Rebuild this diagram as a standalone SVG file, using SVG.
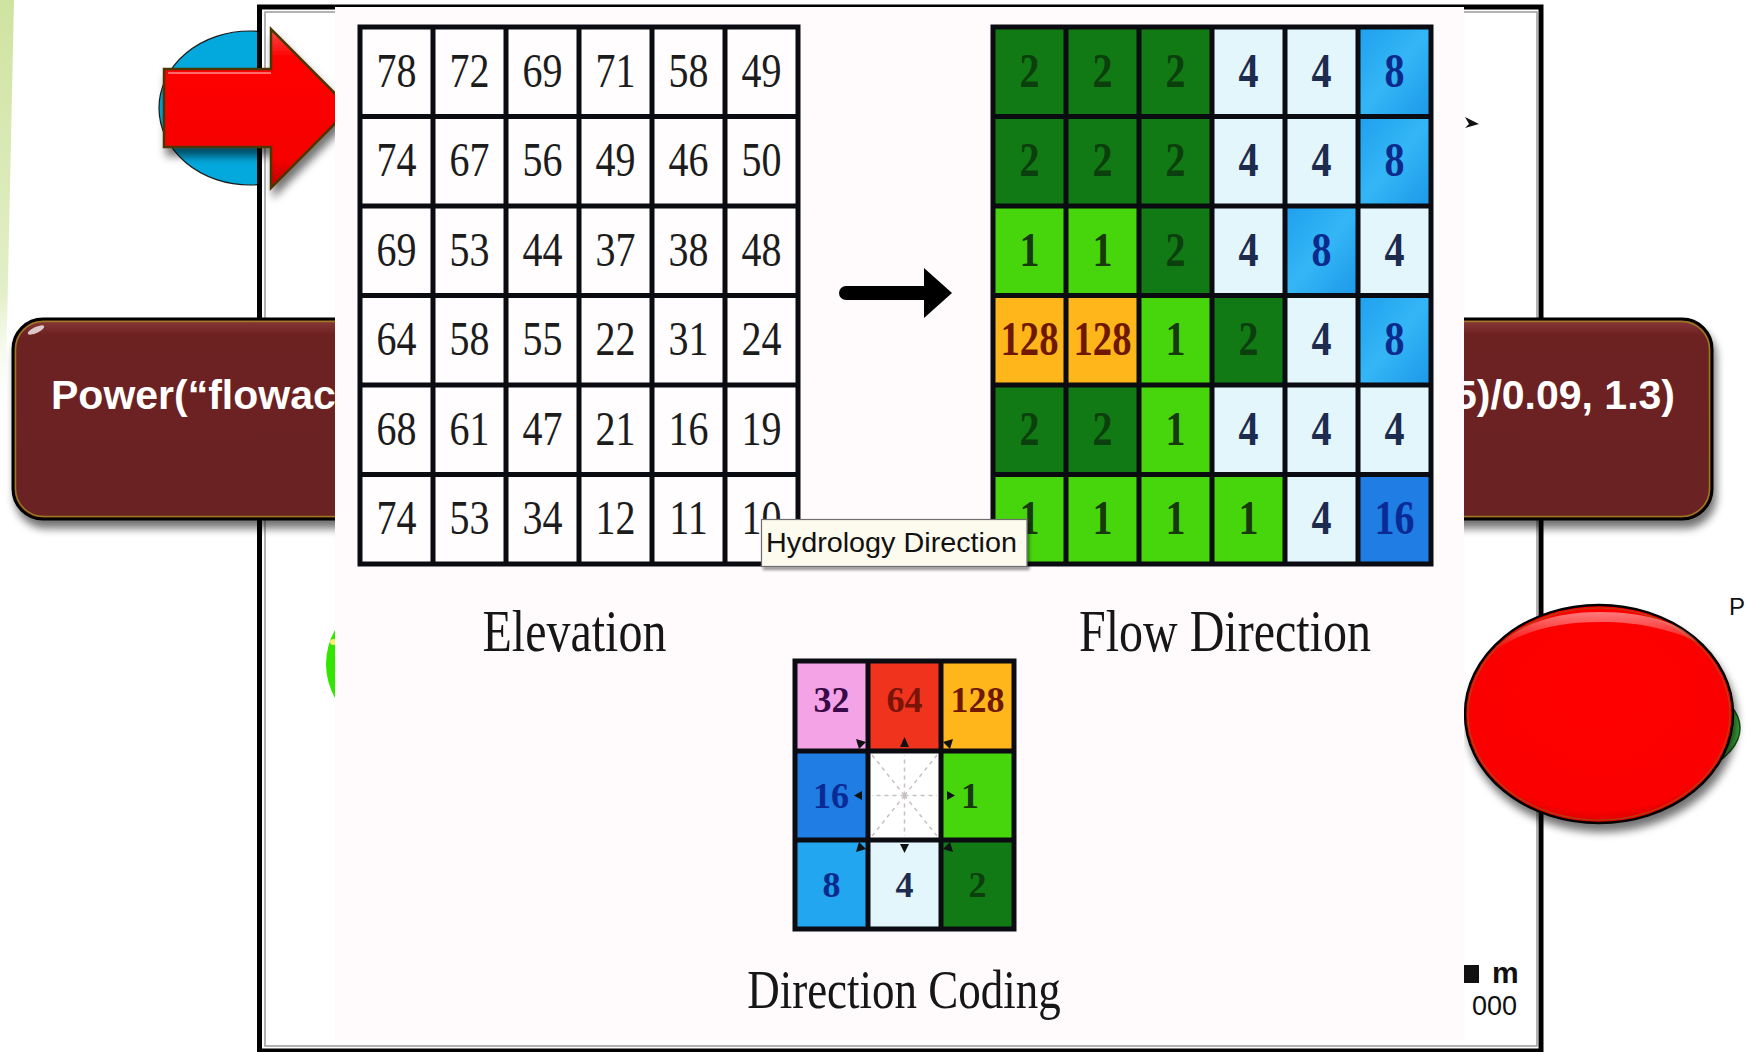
<svg xmlns="http://www.w3.org/2000/svg" width="1749" height="1052" viewBox="0 0 1749 1052">
  <defs>
    <style>
      .bar-text{font-family:"Liberation Sans",Arial,sans-serif;font-weight:bold;font-size:41px;fill:#ffffff}
      .small-sans{font-family:"Liberation Sans",Arial,sans-serif;fill:#111}
      .elev text{font-family:"Liberation Serif","Times New Roman",serif;font-size:40px;fill:#1c1c1c;text-anchor:middle}
      .flow text{font-family:"Liberation Serif","Times New Roman",serif;font-size:40px;font-weight:bold;text-anchor:middle}
      .code text{font-family:"Liberation Serif","Times New Roman",serif;font-size:36px;font-weight:bold;text-anchor:middle}
      .labels text{font-family:"Liberation Serif","Times New Roman",serif;font-weight:normal;fill:#161616;text-anchor:middle}
      .grid-line{fill:none;stroke:#0b0b12;stroke-width:5}
      .dg{fill:#127a14}.lg{fill:#46d60b}.lb{fill:#e2f6fc}.b8{fill:#21a6ef}.or{fill:#ffb61a}.b16{fill:#1f7de3}
      .pk{fill:#f4a3e6}.rd{fill:#f0331c}.wh{fill:#ffffff}
      .t-dg{fill:#0b3f0d}.t-lg{fill:#17390b}.t-lb{fill:#1d2b4e}.t-b8{fill:#0b2a8c}.t-or{fill:#6e1800}.t-b16{fill:#0a2a95}
      .t-pk{fill:#3a0a48}.t-rd{fill:#7a1408}
      .ray{stroke:#c8c0c0;stroke-width:1.5;stroke-dasharray:4 4;fill:none}
      .tip{fill:#111}
    </style>
    <filter id="drop" x="-10%" y="-15%" width="125%" height="145%">
      <feGaussianBlur in="SourceAlpha" stdDeviation="4"/>
      <feOffset dx="3" dy="8"/>
      <feComponentTransfer><feFuncA type="linear" slope="0.55"/></feComponentTransfer>
      <feMerge><feMergeNode/><feMergeNode in="SourceGraphic"/></feMerge>
    </filter>
    <filter id="soft" x="-5%" y="-5%" width="115%" height="130%">
      <feGaussianBlur in="SourceAlpha" stdDeviation="1.5"/>
      <feOffset dx="2" dy="3"/>
      <feComponentTransfer><feFuncA type="linear" slope="0.4"/></feComponentTransfer>
      <feMerge><feMergeNode/><feMergeNode in="SourceGraphic"/></feMerge>
    </filter>
    <linearGradient id="leafGrad" x1="0" y1="0" x2="0" y2="1">
      <stop offset="0" stop-color="#cfe3a0"/>
      <stop offset="0.7" stop-color="#e3efc8"/>
      <stop offset="1" stop-color="#ffffff" stop-opacity="0"/>
    </linearGradient>
    <linearGradient id="barGrad" x1="0" y1="0" x2="0" y2="1">
      <stop offset="0" stop-color="#8a3a3a"/>
      <stop offset="0.08" stop-color="#6d2222"/>
      <stop offset="1" stop-color="#6a2020"/>
    </linearGradient>
    <linearGradient id="redGrad" x1="0" y1="0" x2="0" y2="1">
      <stop offset="0" stop-color="#ff4a4a"/>
      <stop offset="0.18" stop-color="#ff0000"/>
      <stop offset="0.82" stop-color="#f60000"/>
      <stop offset="1" stop-color="#b80000"/>
    </linearGradient>
    <radialGradient id="redBall" cx="0.5" cy="0.4" r="0.62">
      <stop offset="0" stop-color="#ff0000"/>
      <stop offset="0.88" stop-color="#fa0000"/>
      <stop offset="1" stop-color="#cc0000"/>
    </radialGradient>
    <linearGradient id="gloss" x1="0" y1="0" x2="0" y2="1">
      <stop offset="0" stop-color="#ffffff" stop-opacity="0.8"/>
      <stop offset="1" stop-color="#ffffff" stop-opacity="0"/>
    </linearGradient>
    <linearGradient id="blue8" x1="0" y1="0" x2="1" y2="1">
      <stop offset="0" stop-color="#1ea0ee"/>
      <stop offset="0.5" stop-color="#34b6f6"/>
      <stop offset="1" stop-color="#1b98e8"/>
    </linearGradient>
  </defs>

  <rect width="1749" height="1052" fill="#ffffff"/>

  <!-- pale green leaf edge on the far left -->
  <polygon points="0,0 14,0 5,420 0,420" fill="url(#leafGrad)"/>

  <!-- blue disc behind the frame -->
  <g id="blue-disc">
    <ellipse cx="250" cy="108" rx="91" ry="77" fill="#03a8dc" stroke="#1a1a1a" stroke-width="1.2"/>
  </g>

  <!-- slide frame -->
  <g id="frame">
    <rect x="259.5" y="7" width="1281.5" height="1044" fill="#ffffff" stroke="#000000" stroke-width="5"/>
    <rect x="265" y="12" width="1272" height="1034" fill="none" stroke="#9a9a9a" stroke-width="1.5"/>
  </g>

  <!-- green disc, mostly hidden -->
  <g id="green-disc">
    <ellipse cx="446" cy="664" rx="120" ry="90" fill="#33e600"/>
    <ellipse cx="334" cy="642" rx="4" ry="3" fill="#f5f06a"/>
  </g>

  <!-- formula bar -->
  <g id="formula-bar">
    <rect x="13" y="319" width="1699" height="200" rx="30" fill="url(#barGrad)" stroke="#000000" stroke-width="3" filter="url(#drop)"/>
    <rect x="15.5" y="321.5" width="1694" height="195" rx="28" fill="none" stroke="#9a7a22" stroke-width="1.5"/>
    <ellipse cx="36" cy="330" rx="9" ry="3" fill="#ffffff" opacity="0.75" transform="rotate(-25 36 330)"/>
    <text class="bar-text" x="51" y="409">Power(“flowac</text>
    <text class="bar-text" x="1675" y="409" text-anchor="end">5)/0.09, 1.3)</text>
  </g>

  <!-- red block arrow -->
  <g id="red-arrow">
    <polygon points="164,69 271,69 271,29 350,108.5 271,188 271,147 164,147" fill="url(#redGrad)" stroke="#4d3500" stroke-width="2.5" stroke-linejoin="miter" filter="url(#drop)"/>
    <polyline points="168,73 271,73" stroke="#ff6a6a" stroke-width="2" fill="none"/>
  </g>

  <!-- red disc on the right -->
  <g id="red-disc">
    <ellipse cx="1606" cy="728" rx="134" ry="62" fill="#3cae3a" stroke="#1d4d1a" stroke-width="1.5"/>
    <ellipse cx="1599" cy="714" rx="134" ry="109" fill="url(#redBall)" stroke="#000000" stroke-width="2.5" filter="url(#drop)"/>
    <ellipse cx="1599" cy="714" rx="131" ry="106" fill="none" stroke="#9a5a1a" stroke-width="1.2" opacity="0.7"/>
    <path d="M1496,650 C1518,622 1560,612 1600,612 C1648,612 1684,624 1702,645 C1676,630 1640,622 1600,622 C1556,622 1520,632 1496,650 Z" fill="url(#gloss)" opacity="0.6"/>
  </g>

  <!-- side labels outside the picture -->
  <g id="side-labels">
    <polygon points="1465,117 1479,124 1465,128 1469,124" fill="#111"/>
    <text class="small-sans" x="1729" y="615" font-size="24">P</text>
    <rect x="1464" y="965" width="15" height="18" fill="#111"/>
    <text class="small-sans" x="1492" y="983" font-size="30" font-weight="bold">m</text>
    <text class="small-sans" x="1472" y="1015" font-size="27">000</text>
  </g>

  <!-- D8 flow direction figure -->
  <g id="figure">
    <rect x="335" y="7" width="1129" height="1033" fill="#fffafb"/>

    <!-- elevation grid -->
    <g id="elevation-grid" class="elev">
      <rect x="360" y="27" width="438" height="537" fill="#fffdfd"/>
      <path class="grid-line" d="M360,24.5V566.5M433,24.5V566.5M506,24.5V566.5M579,24.5V566.5M652,24.5V566.5M725,24.5V566.5M798,24.5V566.5M357.5,27H800.5M357.5,116.5H800.5M357.5,206H800.5M357.5,295.5H800.5M357.5,385H800.5M357.5,474.5H800.5M357.5,564H800.5"/>
      <g transform="scale(1 1.22)">
        <text x="396.5" y="71.1">78</text><text x="469.5" y="71.1">72</text><text x="542.5" y="71.1">69</text><text x="615.5" y="71.1">71</text><text x="688.5" y="71.1">58</text><text x="761.5" y="71.1">49</text>
        <text x="396.5" y="144.5">74</text><text x="469.5" y="144.5">67</text><text x="542.5" y="144.5">56</text><text x="615.5" y="144.5">49</text><text x="688.5" y="144.5">46</text><text x="761.5" y="144.5">50</text>
        <text x="396.5" y="217.8">69</text><text x="469.5" y="217.8">53</text><text x="542.5" y="217.8">44</text><text x="615.5" y="217.8">37</text><text x="688.5" y="217.8">38</text><text x="761.5" y="217.8">48</text>
        <text x="396.5" y="291.2">64</text><text x="469.5" y="291.2">58</text><text x="542.5" y="291.2">55</text><text x="615.5" y="291.2">22</text><text x="688.5" y="291.2">31</text><text x="761.5" y="291.2">24</text>
        <text x="396.5" y="364.5">68</text><text x="469.5" y="364.5">61</text><text x="542.5" y="364.5">47</text><text x="615.5" y="364.5">21</text><text x="688.5" y="364.5">16</text><text x="761.5" y="364.5">19</text>
        <text x="396.5" y="437.9">74</text><text x="469.5" y="437.9">53</text><text x="542.5" y="437.9">34</text><text x="615.5" y="437.9">12</text><text x="688.5" y="437.9">11</text><text x="761.5" y="437.9">10</text>
      </g>
    </g>

    <!-- flow direction grid -->
    <g id="flow-grid" class="flow">
      <rect class="dg" x="993" y="27" width="73" height="89.5"/><rect class="dg" x="1066" y="27" width="73" height="89.5"/><rect class="dg" x="1139" y="27" width="73" height="89.5"/><rect class="lb" x="1212" y="27" width="73" height="89.5"/><rect class="lb" x="1285" y="27" width="73" height="89.5"/><rect fill="url(#blue8)" x="1358" y="27" width="73" height="89.5"/>
      <rect class="dg" x="993" y="116.5" width="73" height="89.5"/><rect class="dg" x="1066" y="116.5" width="73" height="89.5"/><rect class="dg" x="1139" y="116.5" width="73" height="89.5"/><rect class="lb" x="1212" y="116.5" width="73" height="89.5"/><rect class="lb" x="1285" y="116.5" width="73" height="89.5"/><rect fill="url(#blue8)" x="1358" y="116.5" width="73" height="89.5"/>
      <rect class="lg" x="993" y="206" width="73" height="89.5"/><rect class="lg" x="1066" y="206" width="73" height="89.5"/><rect class="dg" x="1139" y="206" width="73" height="89.5"/><rect class="lb" x="1212" y="206" width="73" height="89.5"/><rect fill="url(#blue8)" x="1285" y="206" width="73" height="89.5"/><rect class="lb" x="1358" y="206" width="73" height="89.5"/>
      <rect class="or" x="993" y="295.5" width="73" height="89.5"/><rect class="or" x="1066" y="295.5" width="73" height="89.5"/><rect class="lg" x="1139" y="295.5" width="73" height="89.5"/><rect class="dg" x="1212" y="295.5" width="73" height="89.5"/><rect class="lb" x="1285" y="295.5" width="73" height="89.5"/><rect fill="url(#blue8)" x="1358" y="295.5" width="73" height="89.5"/>
      <rect class="dg" x="993" y="385" width="73" height="89.5"/><rect class="dg" x="1066" y="385" width="73" height="89.5"/><rect class="lg" x="1139" y="385" width="73" height="89.5"/><rect class="lb" x="1212" y="385" width="73" height="89.5"/><rect class="lb" x="1285" y="385" width="73" height="89.5"/><rect class="lb" x="1358" y="385" width="73" height="89.5"/>
      <rect class="lg" x="993" y="474.5" width="73" height="89.5"/><rect class="lg" x="1066" y="474.5" width="73" height="89.5"/><rect class="lg" x="1139" y="474.5" width="73" height="89.5"/><rect class="lg" x="1212" y="474.5" width="73" height="89.5"/><rect class="lb" x="1285" y="474.5" width="73" height="89.5"/><rect class="b16" x="1358" y="474.5" width="73" height="89.5"/>
      <path class="grid-line" d="M993,24.5V566.5M1066,24.5V566.5M1139,24.5V566.5M1212,24.5V566.5M1285,24.5V566.5M1358,24.5V566.5M1431,24.5V566.5M990.5,27H1433.5M990.5,116.5H1433.5M990.5,206H1433.5M990.5,295.5H1433.5M990.5,385H1433.5M990.5,474.5H1433.5M990.5,564H1433.5"/>
      <g transform="scale(1 1.22)">
        <text class="t-dg" x="1029.5" y="71.1">2</text><text class="t-dg" x="1102.5" y="71.1">2</text><text class="t-dg" x="1175.5" y="71.1">2</text><text class="t-lb" x="1248.5" y="71.1">4</text><text class="t-lb" x="1321.5" y="71.1">4</text><text class="t-b8" x="1394.5" y="71.1">8</text>
        <text class="t-dg" x="1029.5" y="144.5">2</text><text class="t-dg" x="1102.5" y="144.5">2</text><text class="t-dg" x="1175.5" y="144.5">2</text><text class="t-lb" x="1248.5" y="144.5">4</text><text class="t-lb" x="1321.5" y="144.5">4</text><text class="t-b8" x="1394.5" y="144.5">8</text>
        <text class="t-lg" x="1029.5" y="217.8">1</text><text class="t-lg" x="1102.5" y="217.8">1</text><text class="t-dg" x="1175.5" y="217.8">2</text><text class="t-lb" x="1248.5" y="217.8">4</text><text class="t-b8" x="1321.5" y="217.8">8</text><text class="t-lb" x="1394.5" y="217.8">4</text>
        <text class="t-or" x="1029.5" y="291.2" textLength="58" lengthAdjust="spacingAndGlyphs">128</text><text class="t-or" x="1102.5" y="291.2" textLength="58" lengthAdjust="spacingAndGlyphs">128</text><text class="t-lg" x="1175.5" y="291.2">1</text><text class="t-dg" x="1248.5" y="291.2">2</text><text class="t-lb" x="1321.5" y="291.2">4</text><text class="t-b8" x="1394.5" y="291.2">8</text>
        <text class="t-dg" x="1029.5" y="364.5">2</text><text class="t-dg" x="1102.5" y="364.5">2</text><text class="t-lg" x="1175.5" y="364.5">1</text><text class="t-lb" x="1248.5" y="364.5">4</text><text class="t-lb" x="1321.5" y="364.5">4</text><text class="t-lb" x="1394.5" y="364.5">4</text>
        <text class="t-lg" x="1029.5" y="437.9">1</text><text class="t-lg" x="1102.5" y="437.9">1</text><text class="t-lg" x="1175.5" y="437.9">1</text><text class="t-lg" x="1248.5" y="437.9">1</text><text class="t-lb" x="1321.5" y="437.9">4</text><text class="t-b16" x="1394.5" y="437.9">16</text>
      </g>
    </g>

    <!-- direction coding key -->
    <g id="direction-coding" class="code">
      <rect class="pk" x="795" y="661" width="73" height="90"/><rect class="rd" x="868" y="661" width="73" height="90"/><rect class="or" x="941" y="661" width="73" height="90"/>
      <rect class="b16" x="795" y="751" width="73" height="89"/><rect class="wh" x="868" y="751" width="73" height="89"/><rect class="lg" x="941" y="751" width="73" height="89"/>
      <rect class="b8" x="795" y="840" width="73" height="89"/><rect class="lb" x="868" y="840" width="73" height="89"/><rect class="dg" x="941" y="840" width="73" height="89"/>
      <path class="ray" d="M904.5,795.5L872,755M904.5,795.5V755M904.5,795.5L937,755M904.5,795.5H872M904.5,795.5H937M904.5,795.5L872,836M904.5,795.5V836M904.5,795.5L937,836"/>
      <path class="grid-line" d="M795,658.5V931.5M868,658.5V931.5M941,658.5V931.5M1014,658.5V931.5M792.5,661H1016.5M792.5,751H1016.5M792.5,840H1016.5M792.5,929H1016.5"/>
      <polygon class="tip" points="856,739 866,742 859,749"/>
      <polygon class="tip" points="904.5,737 909,747 900,747"/>
      <polygon class="tip" points="953,739 943,742 950,749"/>
      <polygon class="tip" points="854,795.5 862,791 862,800"/>
      <polygon class="tip" points="955,795.5 947,791 947,800"/>
      <polygon class="tip" points="856,852 866,849 859,842"/>
      <polygon class="tip" points="904.5,853 909,844 900,844"/>
      <polygon class="tip" points="953,852 943,849 950,842"/>
      <text class="t-pk" x="831.5" y="712">32</text>
      <text class="t-rd" x="904.5" y="712">64</text>
      <text class="t-or" x="977.5" y="712">128</text>
      <text class="t-b16" x="831" y="808">16</text>
      <text class="t-lg" x="970" y="808">1</text>
      <text class="t-b8" x="831.5" y="897">8</text>
      <text class="t-lb" x="904.5" y="897">4</text>
      <text class="t-dg" x="977.5" y="897">2</text>
    </g>

    <!-- captions under each panel -->
    <g id="captions" class="labels" transform="scale(1 1.22)">
      <text x="574.5" y="533.6" font-size="48">Elevation</text>
      <text x="1225" y="533.6" font-size="48">Flow Direction</text>
      <text x="904" y="826.2" font-size="45">Direction Coding</text>
    </g>

    <!-- hover tooltip -->
    <g id="tooltip">
      <rect x="761.5" y="519.5" width="265.5" height="47" fill="#fdfaee" stroke="#6e6e6e" stroke-width="1.2" filter="url(#soft)"/>
      <text class="small-sans" x="766" y="552" font-size="28" fill="#3b2f2a" textLength="251" lengthAdjust="spacingAndGlyphs">Hydrology Direction</text>
    </g>
  </g>

  <!-- arrow from elevation to flow direction -->
  <g id="connectors">
    <line x1="846" y1="293" x2="930" y2="293" stroke="#000" stroke-width="14" stroke-linecap="round"/>
    <polygon points="924,268 952,293 924,318" fill="#000"/>
  </g>
</svg>
